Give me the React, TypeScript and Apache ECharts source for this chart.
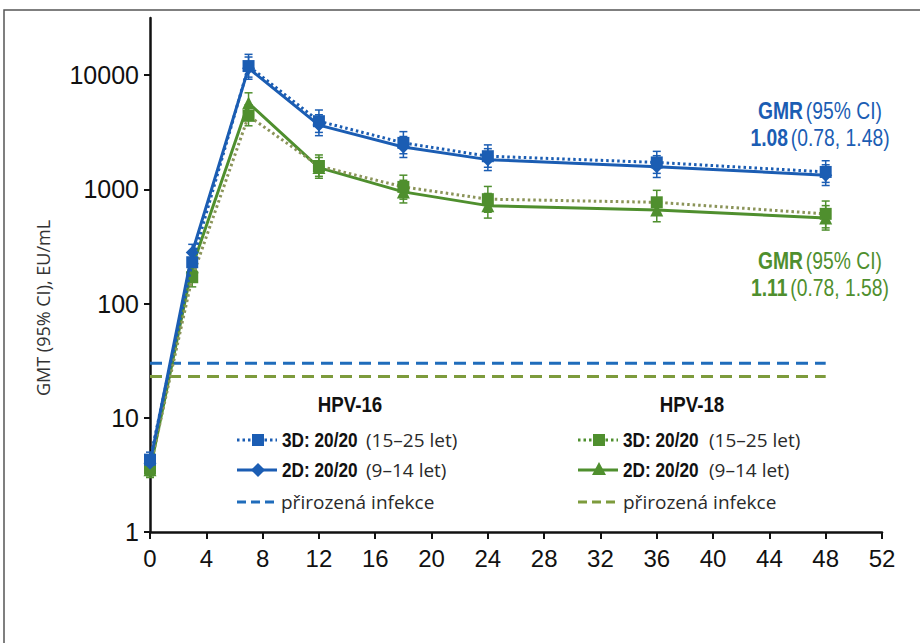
import React, { useEffect, useRef } from "react";
import * as echarts from "echarts";

// Months after first dose at which GMTs were measured
const months = [0, 3, 7, 12, 18, 24, 36, 48];

// HPV-16 antibody GMTs (EU/mL)
const hpv16_3D = [4.3, 230, 12000, 3950, 2550, 1950, 1720, 1420];
const hpv16_3D_low = [3.7, 190, 9600, 3150, 2050, 1560, 1380, 1150];
const hpv16_3D_high = [5.0, 280, 15200, 4950, 3200, 2450, 2150, 1780];
const hpv16_2D = [4.0, 280, 11500, 3650, 2350, 1820, 1580, 1330];
const hpv16_2D_low = [3.5, 235, 9200, 2950, 1900, 1460, 1270, 1080];
const hpv16_2D_high = [4.6, 330, 14400, 4500, 2900, 2270, 1970, 1640];

// HPV-18 antibody GMTs (EU/mL)
const hpv18_3D = [3.6, 170, 4400, 1600, 1050, 820, 770, 610];
const hpv18_3D_low = [3.1, 140, 3600, 1300, 820, 630, 600, 460];
const hpv18_3D_high = [4.2, 210, 5500, 2000, 1330, 1060, 980, 790];
const hpv18_2D = [3.5, 210, 5700, 1550, 950, 720, 660, 560];
const hpv18_2D_low = [3.0, 175, 4600, 1250, 760, 560, 520, 440];
const hpv18_2D_high = [4.1, 250, 7000, 1900, 1200, 920, 840, 720];

// Natural-infection reference levels
const hpv16Natural = 30;
const hpv18Natural = 23;
const naturalSpan = [0, 48];

// Axis ticks
const yTicks = [1, 10, 100, 1000, 10000];
const xMin = 0;
const xMax = 52;
const xStep = 4;

const BLUE = "#1b5db3";
const BLUE_DASH = "#1f6cbb";
const GREEN = "#4f8f2e";
const GREEN_DOT = "#8b9459";
const GREEN_DASH = "#7d9b3c";

const SANS = "Liberation Sans";
const LIGHT = "Open Sans";

function errorBars(name: string, lo: number[], hi: number[], color: string) {
  return {
    type: "custom",
    name,
    z: 3,
    data: months.map((m, i) => [m, lo[i], hi[i]]),
    encode: { x: 0, y: [1, 2] },
    renderItem: (_p: any, api: any) => {
      const x = api.value(0);
      const a = api.coord([x, api.value(1)]);
      const b = api.coord([x, api.value(2)]);
      const cap = 4;
      const st = { stroke: color, lineWidth: 1.5 };
      return {
        type: "group",
        children: [
          { type: "line", shape: { x1: a[0], y1: a[1], x2: b[0], y2: b[1] }, style: st },
          { type: "line", shape: { x1: a[0] - cap, y1: a[1], x2: a[0] + cap, y2: a[1] }, style: st },
          { type: "line", shape: { x1: b[0] - cap, y1: b[1], x2: b[0] + cap, y2: b[1] }, style: st },
        ],
      };
    },
  };
}

function legendRow(
  x: number,
  y: number,
  color: string,
  lineType: "dotted" | "solid" | "dashed",
  marker: "square" | "diamond" | "triangle" | null,
  boldText: string,
  lightText: string,
  lightX: number
) {
  const dash = lineType === "dotted" ? [2.5, 3] : lineType === "dashed" ? [9, 5] : null;
  const children: any[] = [
    {
      type: "line",
      shape: { x1: x, y1: y, x2: x + 40, y2: y },
      style: { stroke: color, lineWidth: 3, lineDash: dash },
    },
  ];
  const cx = x + 21;
  if (marker === "square") {
    children.push({ type: "rect", shape: { x: cx - 6, y: y - 6, width: 12, height: 12 }, style: { fill: color } });
  } else if (marker === "diamond") {
    children.push({
      type: "polygon",
      shape: { points: [[cx, y - 7], [cx + 7, y], [cx, y + 7], [cx - 7, y]] },
      style: { fill: color },
    });
  } else if (marker === "triangle") {
    children.push({
      type: "polygon",
      shape: { points: [[cx, y - 8], [cx + 7, y + 5], [cx - 7, y + 5]] },
      style: { fill: color },
    });
  }
  if (boldText) {
    children.push({
      type: "text",
      x: x + 45,
      y,
      scaleX: 0.82,
      style: { text: boldText, fontFamily: SANS, fontWeight: "bold", fontSize: 21, fill: "#111", verticalAlign: "middle" },
    });
  }
  children.push({
    type: "text",
    x: lightX,
    y,
    style: { text: lightText, fontFamily: LIGHT, fontSize: 19, fill: "#2a2a2a", verticalAlign: "middle" },
  });
  return { type: "group", children };
}

function gmrBlock(cx: number, y: number, color: string, est: string, ci: string) {
  const rich = {
    b: { fontFamily: SANS, fontWeight: "bold", fontSize: 23, fill: color, color },
    r: { fontFamily: SANS, fontSize: 23, fill: color, color },
  };
  return {
    type: "group",
    children: [
      {
        type: "text",
        x: cx,
        y,
        scaleX: 0.84,
        style: { text: "{b|GMR} {r|(95% CI)}", rich, align: "center", verticalAlign: "middle" },
      },
      {
        type: "text",
        x: cx,
        y: y + 27,
        scaleX: 0.84,
        style: { text: `{b|${est}} {r|${ci}}`, rich, align: "center", verticalAlign: "middle" },
      },
    ],
  };
}

export default function App() {
  const ref = useRef<HTMLDivElement>(null);

  useEffect(() => {
    if (!ref.current) return;
    const chart = echarts.init(ref.current, null, { renderer: "svg" });

    const line = (name: string, data: number[], color: string, lineColor: string, dotted: boolean, symbol: string, size: number, z: number) => ({
      type: "line",
      name,
      z,
      data: months.map((m, i) => [m, data[i]]),
      symbol,
      symbolSize: size,
      itemStyle: { color },
      lineStyle: { color: lineColor, width: 3, type: dotted ? [2.5, 3] : "solid" },
    });

    const natural = (name: string, v: number, color: string) => ({
      type: "line",
      name,
      z: 1,
      data: naturalSpan.map((m) => [m, v]),
      symbol: "none",
      lineStyle: { color, width: 3, type: [12, 7] },
    });

    chart.setOption({
      animation: false,
      textStyle: { fontFamily: SANS },
      grid: { left: 150, right: 38, top: 18, bottom: 111 },
      xAxis: {
        type: "value",
        min: xMin,
        max: xMax,
        interval: xStep,
        splitLine: { show: false },
        axisLine: { lineStyle: { color: "#111", width: 2.5 } },
        axisTick: { length: 7, lineStyle: { color: "#111", width: 2 } },
        axisLabel: { fontFamily: SANS, fontSize: 24, color: "#111", margin: 14 },
      },
      yAxis: {
        type: "log",
        logBase: 10,
        min: 1,
        max: Math.pow(10, 4.5),
        splitLine: { show: false },
        axisLine: { show: true, lineStyle: { color: "#111", width: 2.5 } },
        axisTick: { show: true, length: 6, customValues: yTicks, lineStyle: { color: "#111", width: 2 } },
        axisLabel: {
          fontFamily: SANS,
          fontSize: 25,
          color: "#111",
          margin: 11,
          customValues: yTicks,
          formatter: (v: number) => String(Math.round(v)),
        },
      },
      series: [
        natural("HPV-16 přirozená infekce", hpv16Natural, BLUE_DASH),
        natural("HPV-18 přirozená infekce", hpv18Natural, GREEN_DASH),
        errorBars("HPV-18 2D CI", hpv18_2D_low, hpv18_2D_high, GREEN),
        errorBars("HPV-18 3D CI", hpv18_3D_low, hpv18_3D_high, GREEN),
        errorBars("HPV-16 2D CI", hpv16_2D_low, hpv16_2D_high, BLUE),
        errorBars("HPV-16 3D CI", hpv16_3D_low, hpv16_3D_high, BLUE),
        line("HPV-18 2D", hpv18_2D, GREEN, GREEN, false, "triangle", 13, 4),
        line("HPV-18 3D", hpv18_3D, GREEN, GREEN_DOT, true, "rect", 12, 5),
        line("HPV-16 2D", hpv16_2D, BLUE, BLUE, false, "diamond", 13, 6),
        line("HPV-16 3D", hpv16_3D, BLUE, BLUE, true, "rect", 12, 7),
      ],
      graphic: [
        {
          type: "rect",
          shape: { x: 4, y: 10, width: 1000, height: 1000 },
          style: { fill: "none", stroke: "#555", lineWidth: 1.5 },
          silent: true,
        },
        {
          type: "text",
          x: 43,
          y: 308,
          rotation: Math.PI / 2,
          style: { text: "GMT (95% CI), EU/mL", fontFamily: LIGHT, fontSize: 18, fill: "#333", align: "center", verticalAlign: "middle" },
        },
        { type: "text", x: 350, y: 404, scaleX: 0.85, style: { text: "HPV-16", fontFamily: SANS, fontWeight: "bold", fontSize: 22, fill: "#111", align: "center", verticalAlign: "middle" } },
        { type: "text", x: 692, y: 404, scaleX: 0.85, style: { text: "HPV-18", fontFamily: SANS, fontWeight: "bold", fontSize: 22, fill: "#111", align: "center", verticalAlign: "middle" } },
        legendRow(237, 440, BLUE, "dotted", "square", "3D: 20/20", "(15–25 let)", 366),
        legendRow(237, 470, BLUE, "solid", "diamond", "2D: 20/20", "(9–14 let)", 366),
        legendRow(237, 502, BLUE_DASH, "dashed", null, "", "přirozená infekce", 281),
        legendRow(578, 440, GREEN, "dotted", "square", "3D: 20/20", "(15–25 let)", 709),
        legendRow(578, 470, GREEN, "solid", "triangle", "2D: 20/20", "(9–14 let)", 709),
        legendRow(578, 502, GREEN_DASH, "dashed", null, "", "přirozená infekce", 623),
        gmrBlock(820, 111, BLUE, "1.08", "(0.78, 1.48)"),
        gmrBlock(820, 261, GREEN, "1.11", "(0.78, 1.58)"),
      ],
    });

    return () => chart.dispose();
  }, []);

  return <div ref={ref} style={{ position: "fixed", left: 0, top: 0, width: 920, height: 643, background: "#fff" }} />;
}
